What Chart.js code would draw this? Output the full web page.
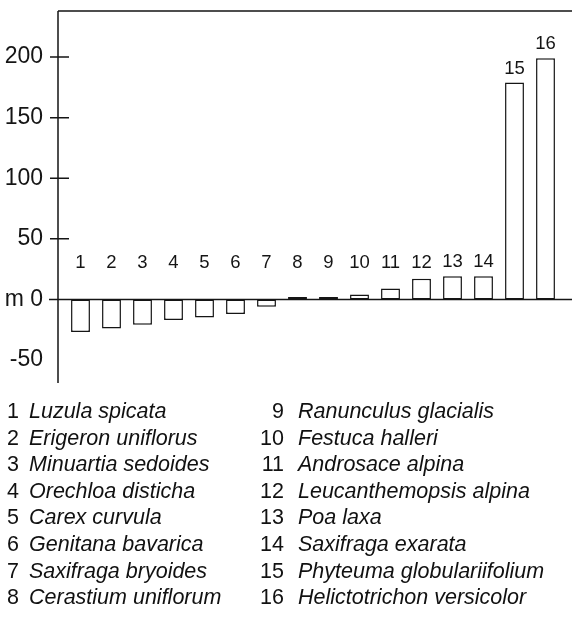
<!DOCTYPE html>
<html>
<head>
<meta charset="utf-8">
<script src="https://cdn.jsdelivr.net/npm/chart.js@4"></script>
<style>
  body { margin: 0; background: #fff; }
  #wrap { position: relative; width: 572px; height: 621px; }
  #legend { position: absolute; left: 0; top: 0; font-family: 'Liberation Sans', Arial, sans-serif; font-size: 21.5px; color: #111; }
  .num { position: absolute; text-align: right; width: 30px; }
  .name { position: absolute; font-style: italic; white-space: nowrap; }
</style>
</head>
<body>
<div id="wrap">
  <canvas id="changeChart" width="572" height="621"></canvas>
  <div id="legend"></div>
</div>
<script>
    // data
    const numbers = ['1', '2', '3', '4', '5', '6', '7', '8', '9', '10', '11', '12', '13', '14', '15', '16'];
    const species = ['Luzula spicata', 'Erigeron uniflorus', 'Minuartia sedoides', 'Orechloa disticha',
      'Carex curvula', 'Genitana bavarica', 'Saxifraga bryoides', 'Cerastium uniflorum',
      'Ranunculus glacialis', 'Festuca halleri', 'Androsace alpina', 'Leucanthemopsis alpina',
      'Poa laxa', 'Saxifraga exarata', 'Phyteuma globulariifolium', 'Helictotrichon versicolor'];
    const change = [-27, -24, -21, -17, -15, -12, -6, 2, 2, 4, 9, 17, 19, 19, 179, 199];
    const yTicks = [-50, 0, 50, 100, 150, 200];
    const tickMarks = [50, 100, 150, 200];

    const face = "'Liberation Sans', Arial, sans-serif";
    const ink = '#151515';

    // axis lines, zero line, tick marks
    const frame = {
      id: 'frame',
      beforeDatasetsDraw(chart) {
        const { ctx, chartArea, scales: { y } } = chart;
        const ax = chartArea.left - 7;
        ctx.save();
        ctx.strokeStyle = ink;
        ctx.lineWidth = 1.5;
        ctx.beginPath();
        ctx.moveTo(ax, chartArea.top);
        ctx.lineTo(ax, chartArea.bottom);
        ctx.moveTo(ax, chartArea.top);
        ctx.lineTo(chart.width, chartArea.top);
        const y0 = y.getPixelForValue(0);
        ctx.moveTo(ax - 9, y0);
        ctx.lineTo(chart.width, y0);
        tickMarks.forEach(v => {
          const py = y.getPixelForValue(v);
          ctx.moveTo(ax - 8, py);
          ctx.lineTo(ax + 11, py);
        });
        ctx.stroke();
        ctx.restore();
      }
    };

    // species number above each bar
    const barNumbers = {
      id: 'barNumbers',
      afterDatasetsDraw(chart) {
        const { ctx, scales: { y } } = chart;
        const row = y.getPixelForValue(30.5);
        ctx.save();
        ctx.font = '18.5px ' + face;
        ctx.fillStyle = ink;
        ctx.textAlign = 'center';
        ctx.textBaseline = 'middle';
        chart.getDatasetMeta(0).data.forEach((bar, i) => {
          const top = Math.min(bar.y, bar.base);
          ctx.fillText(numbers[i], bar.x, Math.min(row, top - 14));
        });
        ctx.restore();
      }
    };

    new Chart(document.getElementById('changeChart'), {
      type: 'bar',
      data: {
        labels: numbers,
        datasets: [{
          data: change,
          backgroundColor: '#fff',
          borderColor: ink,
          borderWidth: 1.5,
          borderSkipped: false,
          barPercentage: 0.61,
          categoryPercentage: 1
        }]
      },
      options: {
        responsive: false,
        animation: false,
        layout: { padding: { top: 11, bottom: 238, right: 11, left: 0 } },
        plugins: { legend: { display: false }, tooltip: { enabled: false } },
        scales: {
          x: { display: false },
          y: {
            min: -69,
            max: 238,
            grid: { display: false, drawTicks: false },
            border: { display: false },
            afterBuildTicks: s => { s.ticks = yTicks.map(v => ({ value: v })); },
            afterFit: s => { s.width = 65; s.paddingTop = 0; s.paddingBottom = 0; },
            ticks: {
              padding: 22,
              color: ink,
              font: { family: face, size: 23 },
              callback: v => v === 0 ? 'm 0' : v
            }
          }
        }
      },
      plugins: [frame, barNumbers]
    });

    // key below the chart, two columns of eight
    const legend = document.getElementById('legend');
    species.forEach((name, i) => {
      const col = i < 8 ? 0 : 1;
      const r = i % 8;
      const top = 399 + r * 26.6;
      const num = document.createElement('div');
      num.className = 'num';
      num.textContent = numbers[i];
      num.style.top = top + 'px';
      num.style.left = (col ? 254 : -11) + 'px';
      const txt = document.createElement('div');
      txt.className = 'name';
      txt.textContent = name;
      txt.style.top = top + 'px';
      txt.style.left = (col ? 298 : 29) + 'px';
      legend.appendChild(num);
      legend.appendChild(txt);
    });
</script>
</body>
</html>
